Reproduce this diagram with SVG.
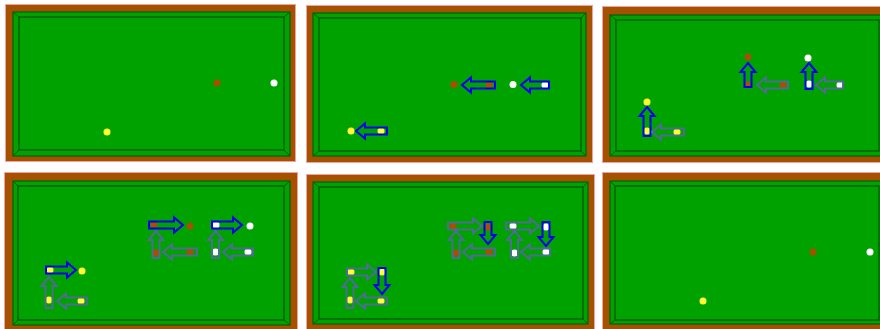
<svg xmlns="http://www.w3.org/2000/svg" width="880" height="329" viewBox="0 0 880 329">
<style>
.frame{fill:#A55200;stroke:#F2A0A0;stroke-width:1}
.cloth{fill:#00A200;stroke:#006000;stroke-width:1.2}
.inner{fill:#00A200;stroke:#006000;stroke-width:1.5}
.bevel{fill:none;stroke:#006000;stroke-width:1}
.r{fill:#A84F00}
.w{fill:#FFFFFF}
.y{fill:#FFFF33}
.blue{fill:none;stroke:#0000F0;stroke-width:2;stroke-linejoin:miter}
.gray{fill:none;stroke:#4F6C96;stroke-width:2;stroke-linejoin:miter}
</style>
<rect width="880" height="329" fill="#FFFFFF"/>

<g id="panel1">
<rect class="frame" x="5.5" y="4.5" width="290" height="157"/>
<rect class="cloth" x="13" y="12" width="277" height="144"/>
<rect class="inner" x="19" y="17" width="265" height="133"/>
<path class="bevel" d="M13,12 L19,17 M290,12 L284,17 M13,156 L19,150 M290,156 L284,150"/>
<circle class="r" cx="217" cy="83" r="3.5"/>
<circle class="w" cx="274" cy="83" r="3.5"/>
<circle class="y" cx="107" cy="132" r="3.5"/>
</g>

<g id="panel2">
<rect class="frame" x="306.5" y="5.5" width="286" height="157"/>
<rect class="cloth" x="313" y="13" width="273" height="143"/>
<rect class="inner" x="319" y="18" width="262" height="133"/>
<path class="bevel" d="M313,13 L319,18 M586,13 L581,18 M313,156 L319,151 M586,156 L581,151"/>
<circle class="r" cx="454" cy="84.5" r="3.5"/>
<circle class="w" cx="513" cy="84.5" r="3.5"/>
<circle class="y" cx="351" cy="131" r="3.5"/>
<circle class="r" cx="489" cy="85" r="3.5"/>
<circle class="w" cx="545" cy="85" r="3.5"/>
<circle class="y" cx="381" cy="131" r="3.5"/>
</g>

<g id="panel3">
<rect class="frame" x="602.5" y="6.5" width="290" height="156"/>
<rect class="cloth" x="610" y="15" width="275" height="141"/>
<rect class="inner" x="616" y="20" width="263" height="131"/>
<path class="bevel" d="M610,15 L616,20 M610,156 L616,151"/>
<circle class="r" cx="748" cy="57" r="3.5"/>
<circle class="w" cx="808" cy="58" r="3.5"/>
<circle class="y" cx="647" cy="102" r="3.5"/>
<circle class="r" cx="748" cy="85" r="3.5"/>
<circle class="w" cx="809" cy="84" r="3.5"/>
<circle class="y" cx="647" cy="131" r="3.5"/>
<circle class="r" cx="783" cy="85" r="3.5"/>
<circle class="w" cx="840" cy="85" r="3.5"/>
<circle class="y" cx="677" cy="132" r="3.5"/>
</g>

<g id="panel4">
<rect class="frame" x="4.5" y="172.5" width="293" height="160"/>
<rect class="cloth" x="13" y="181" width="277" height="144"/>
<rect class="inner" x="18" y="186" width="266" height="134"/>
<path class="bevel" d="M13,181 L18,186 M290,181 L284,186 M13,325 L18,320 M290,325 L284,320"/>
<circle class="r" cx="190" cy="226" r="3.5"/>
<circle class="w" cx="250" cy="226" r="3.5"/>
<circle class="y" cx="82" cy="271" r="3.5"/>
<circle class="r" cx="154" cy="225" r="3.5"/>
<circle class="w" cx="216" cy="225" r="3.5"/>
<circle class="y" cx="50" cy="270" r="3.5"/>
<circle class="r" cx="156" cy="253" r="3.5"/>
<circle class="w" cx="215.5" cy="252" r="3.5"/>
<circle class="y" cx="49" cy="300" r="3.5"/>
<circle class="r" cx="190" cy="252" r="3.5"/>
<circle class="w" cx="248" cy="252" r="3.5"/>
<circle class="y" cx="81" cy="301" r="3.5"/>
</g>

<g id="panel5">
<rect class="frame" x="306.5" y="174.5" width="288" height="158"/>
<rect class="cloth" x="313" y="182" width="275" height="142"/>
<rect class="inner" x="319" y="187" width="264" height="132"/>
<path class="bevel" d="M313,182 L319,187 M588,182 L583,187 M313,324 L319,319 M588,324 L583,319"/>
<circle class="r" cx="453" cy="226" r="3.5"/>
<circle class="r" cx="488" cy="227" r="3.5"/>
<circle class="r" cx="456" cy="253" r="3.5"/>
<circle class="r" cx="489" cy="252" r="3.5"/>
<circle class="w" cx="513" cy="226" r="3.5"/>
<circle class="w" cx="546" cy="227" r="3.5"/>
<circle class="w" cx="514.5" cy="253" r="3.5"/>
<circle class="w" cx="546" cy="252" r="3.5"/>
<circle class="y" cx="351" cy="272" r="3.5"/>
<circle class="y" cx="382" cy="272" r="3.5"/>
<circle class="y" cx="350" cy="300" r="3.5"/>
<circle class="y" cx="381" cy="301" r="3.5"/>
</g>

<g id="panel6">
<rect class="frame" x="602.5" y="172.5" width="290" height="160"/>
<rect class="cloth" x="610" y="181" width="275" height="143"/>
<rect class="inner" x="615" y="186" width="264" height="134"/>
<path class="bevel" d="M610,181 L615,186 M610,324 L615,320"/>
<circle class="r" cx="813" cy="252" r="3.5"/>
<circle class="w" cx="870" cy="252" r="3.5"/>
<circle class="y" cx="703" cy="301" r="3.5"/>
</g>

<g id="connectors">
<!-- panel 2 -->
<path class="blue" d="M462,85 L471,77.5 V81.5 H495 V88.5 H471 V92.5 Z"/>
<path class="blue" d="M521,85 L530,77.5 V81.5 H549 V88.5 H530 V92.5 Z"/>
<path class="blue" d="M356,131 L365,123.5 V127.5 H387 V134.5 H365 V138.5 Z"/>
<!-- panel 3 -->
<path class="blue" d="M748,63 L755.5,72 H751.5 V87 H744.5 V72 H740.5 Z"/>
<path class="blue" d="M809,63 L816.5,72 H812.5 V89 H805.5 V72 H801.5 Z"/>
<path class="blue" d="M647,107 L654.5,116 H650.5 V136 H643.5 V116 H639.5 Z"/>
<path class="gray" d="M757,85 L766,77.5 V81.5 H788 V88.5 H766 V92.5 Z"/>
<path class="gray" d="M816,85 L825,77.5 V81.5 H843 V88.5 H825 V92.5 Z"/>
<path class="gray" d="M652,132 L661,124.5 V128.5 H684 V135.5 H661 V139.5 Z"/>
<!-- panel 4 -->
<path class="blue" d="M183,225 L174,217.5 V221.5 H149 V228.5 H174 V232.5 Z"/>
<path class="blue" d="M242,225 L233,217.5 V221.5 H212 V228.5 H233 V232.5 Z"/>
<path class="blue" d="M76,270 L67,262.5 V266.5 H46 V273.5 H67 V277.5 Z"/>
<path class="gray" d="M156,231 L163.5,240 H159.5 V258 H152.5 V240 H148.5 Z"/>
<path class="gray" d="M215.5,231 L223,240 H219 V258 H212 V240 H208 Z"/>
<path class="gray" d="M49,277 L56.5,286 H52.5 V308 H45.5 V286 H41.5 Z"/>
<path class="gray" d="M163,252 L172,244.5 V248.5 H197 V255.5 H172 V259.5 Z"/>
<path class="gray" d="M223,252 L232,244.5 V248.5 H253 V255.5 H232 V259.5 Z"/>
<path class="gray" d="M57,301 L66,293.5 V297.5 H87 V304.5 H66 V308.5 Z"/>
<!-- panel 5 -->
<path class="gray" d="M482,226 L473,218.5 V222.5 H448 V229.5 H473 V233.5 Z"/>
<path class="blue" d="M488,244 L495.5,235 H491.5 V222 H484.5 V235 H480.5 Z"/>
<path class="gray" d="M456,231 L463.5,240 H459.5 V258 H452.5 V240 H448.5 Z"/>
<path class="gray" d="M463,252 L472,244.5 V248.5 H495 V255.5 H472 V259.5 Z"/>
<path class="gray" d="M539,226 L530,218.5 V222.5 H506 V229.5 H530 V233.5 Z"/>
<path class="blue" d="M546,246 L553.5,237 H549.5 V222 H542.5 V237 H538.5 Z"/>
<path class="gray" d="M514.5,231 L522,240 H518 V258 H511 V240 H507 Z"/>
<path class="gray" d="M521,252 L530,244.5 V248.5 H550 V255.5 H530 V259.5 Z"/>
<path class="gray" d="M376,272 L367,264.5 V268.5 H347 V275.5 H367 V279.5 Z"/>
<path class="blue" d="M382,294 L389.5,285 H385.5 V268 H378.5 V285 H374.5 Z"/>
<path class="gray" d="M350,278 L357.5,287 H353.5 V308 H346.5 V287 H342.5 Z"/>
<path class="gray" d="M356,301 L365,293.5 V297.5 H387 V304.5 H365 V308.5 Z"/>
</g>
</svg>
